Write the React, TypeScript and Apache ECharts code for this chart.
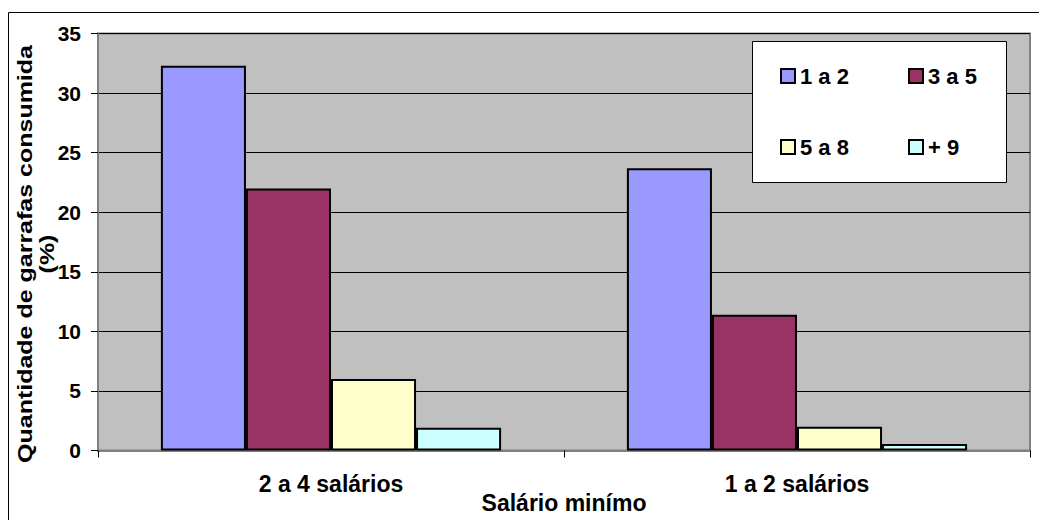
import React, { useEffect, useRef } from "react";
import * as echarts from "echarts";

// Income bands (minimum wages) on the category axis
const categories = ["2 a 4 salários", "1 a 2 salários"];

// Series names shown in the legend
const seriesNames = ["1 a 2", "3 a 5", "5 a 8", "+ 9"];

// Share of bottles consumed (%) for each series, per income band
const s1a2 = [32.3, 23.7];
const s3a5 = [22.0, 11.4];
const s5a8 = [6.0, 2.0];
const s9 = [1.9, 0.55];

const yTicks = { min: 0, max: 35, interval: 5 };

const colors = ["#9999FF", "#993366", "#FFFFCC", "#CCFFFF"];
const FONT = 'Arial, "Liberation Sans", sans-serif';

export default function App() {
  const ref = useRef<HTMLDivElement>(null);

  useEffect(() => {
    if (!ref.current) return;
    const chart = echarts.init(ref.current, undefined, { renderer: "svg" });
    const values = [s1a2, s3a5, s5a8, s9];

    const legendPos = [
      { left: 780, top: 65 },
      { left: 908, top: 65 },
      { left: 780, top: 136 },
      { left: 908, top: 136 },
    ];

    chart.setOption({
      animation: false,
      backgroundColor: "#ffffff",
      textStyle: { fontFamily: FONT },
      grid: {
        left: 98,
        right: 9,
        top: 33.5,
        bottom: 69.5,
        outerBoundsMode: "none",
        containLabel: false,
        show: true,
        backgroundColor: "#C0C0C0",
        borderColor: "#808080",
        borderWidth: 2,
      },
      legend: seriesNames.map((name, i) => ({
        data: [name],
        left: legendPos[i].left,
        top: legendPos[i].top,
        padding: 0,
        icon: "rect",
        itemWidth: 14,
        itemHeight: 14,
        itemGap: 5,
        selectedMode: false,
        z: 20,
        textStyle: {
          fontFamily: FONT,
          fontSize: 22,
          fontWeight: "bold",
          color: "#000",
        },
      })),
      xAxis: {
        type: "category",
        data: categories,
        name: "Salário minímo",
        nameLocation: "middle",
        nameGap: 41,
        nameMoveOverlap: false,
        nameTextStyle: {
          fontFamily: FONT,
          fontSize: 23,
          lineHeight: 23,
          fontWeight: "bold",
          color: "#000",
        },
        axisLine: { lineStyle: { color: "#808080", width: 2 } },
        axisTick: { show: true, length: 7, lineStyle: { color: "#000" } },
        axisLabel: {
          margin: 22,
          fontFamily: FONT,
          fontSize: 23,
          fontWeight: "bold",
          color: "#000",
        },
      },
      yAxis: {
        type: "value",
        min: yTicks.min,
        max: yTicks.max,
        interval: yTicks.interval,
        axisLine: { show: true, lineStyle: { color: "#808080", width: 2 } },
        axisTick: { show: true, length: 7, lineStyle: { color: "#000" } },
        splitLine: { show: true, lineStyle: { color: "#000", width: 1 } },
        axisLabel: {
          margin: 17,
          fontFamily: FONT,
          fontSize: 21,
          fontWeight: "bold",
          color: "#000",
        },
      },
      series: seriesNames.map((name, i) => ({
        name,
        type: "bar",
        data: values[i],
        barGap: "0%",
        barCategoryGap: "27%",
        itemStyle: {
          color: colors[i],
          borderColor: "#000",
          borderWidth: 2,
        },
      })),
      graphic: [
        {
          type: "rect",
          z: -10,
          silent: true,
          shape: { x: 8.5, y: 12.5, width: 1040, height: 520 },
          style: { fill: "none", stroke: "#000", lineWidth: 1 },
        },
        {
          type: "rect",
          z: 10,
          silent: true,
          shape: { x: 752.5, y: 41.5, width: 254, height: 141 },
          style: { fill: "#fff", stroke: "#000", lineWidth: 1 },
        },
        {
          // y-axis title, widened along its reading direction
          type: "text",
          x: 36.5,
          y: 254,
          rotation: Math.PI / 2,
          scaleX: 1.25,
          silent: true,
          style: {
            text: "Quantidade de garrafas consumida\n(%)",
            fontFamily: FONT,
            fontSize: 20,
            fontWeight: "bold",
            fill: "#000",
            align: "center",
            verticalAlign: "middle",
            lineHeight: 22,
          },
        },
      ],
    });

    return () => chart.dispose();
  }, []);

  return (
    <div
      ref={ref}
      style={{ position: "fixed", left: 0, top: 0, width: 1039, height: 520 }}
    />
  );
}
